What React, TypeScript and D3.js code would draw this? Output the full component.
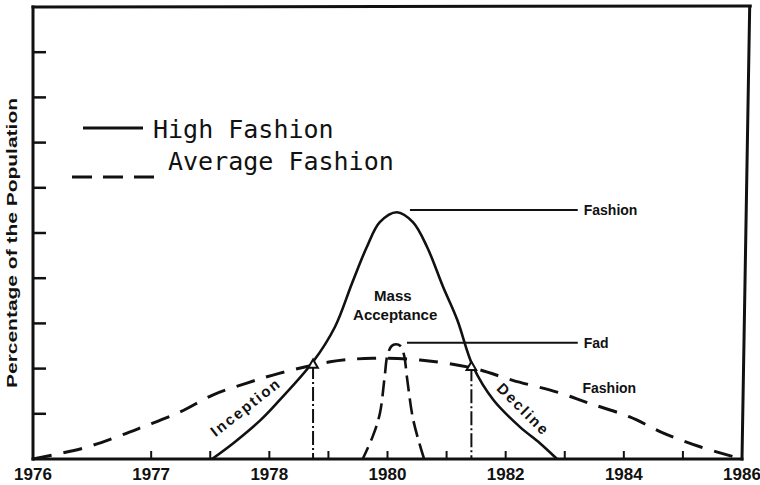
import React from "react";
import * as d3 from "d3";

// x is measured in tick steps along the axis (0 = 1976, 12 = 1986), y in axis ticks
const tickLabels = ["1976", "", "1977", "", "1978", "", "1980", "", "1982", "", "1984", "", "1986"];
const yTicks = [1, 2, 3, 4, 5, 6, 7, 8, 9];
const xMinorTicks = [2, 3, 4, 5, 6, 7, 8, 9, 10, 11];

const highFashion: [number, number][] = [
	[3.03, 0], [3.39, 0.35], [3.85, 0.86], [4.13, 1.24], [4.74, 2.15], [5.11, 2.92],
	[5.4, 3.89], [5.65, 4.69], [5.87, 5.24], [6.16, 5.46], [6.43, 5.24], [6.67, 4.69],
	[6.94, 3.81], [7.18, 3.08], [7.45, 2.04], [7.79, 1.31], [8.24, 0.71], [8.58, 0.35], [8.87, 0],
];

const averageFashion: [number, number][] = [
	[0, 0], [0.85, 0.24], [1.42, 0.49], [1.86, 0.71], [2.49, 1.04], [3.05, 1.42],
	[3.62, 1.68], [4.18, 1.9], [5.03, 2.15], [5.75, 2.23], [6.55, 2.19], [7.45, 2.01],
	[8.12, 1.74], [8.87, 1.48], [9.4, 1.24], [10.1, 0.93], [10.66, 0.58], [11.29, 0.27], [12, 0],
];

const fad: [number, number][] = [
	[5.58, 0], [5.75, 0.5], [5.87, 1.0], [5.95, 1.8], [6.0, 2.3], [6.07, 2.5], [6.14, 2.54],
	[6.22, 2.5], [6.28, 2.3], [6.33, 1.8], [6.43, 0.9], [6.55, 0.3], [6.62, 0],
];

// where the two curves cross: dropped to the axis
const crossings: [number, number][] = [[4.74, 2.08], [7.42, 2.03]];

const leaders = [
	{ label: "Fashion", x0: 6.38, x1: 9.22, y: 5.51 },
	{ label: "Fad", x0: 6.33, x1: 9.22, y: 2.57 },
];

const notes = [
	{ label: "Fashion", x: 9.3, y: 1.57, angle: 0, anchor: "start" },
	{ label: "Mass", x: 6.09, y: 3.62, angle: 0, anchor: "middle" },
	{ label: "Acceptance", x: 6.13, y: 3.2, angle: 0, anchor: "middle" },
	{ label: "Inception", x: 3.6, y: 1.15, angle: -38, anchor: "middle" },
	{ label: "Decline", x: 8.3, y: 1.1, angle: 45, anchor: "middle" },
];

const W = 760;
const H = 485;

export default function App() {
	const x = d3.scaleLinear().domain([0, 12]).range([33, 742]);
	const y = d3.scaleLinear().domain([0, 10]).range([459, 7]);

	const line = d3
		.line<[number, number]>()
		.x((d) => x(d[0]))
		.y((d) => y(d[1]))
		.curve(d3.curveCatmullRom.alpha(0.5));

	const sans = "'Liberation Sans', Arial, sans-serif";
	const mono = "'DejaVu Sans Mono', monospace";
	const tri = d3.symbol(d3.symbolTriangle, 40)();

	return (
		<svg width={W} height={H} style={{ position: "absolute", left: 0, top: 0, background: "#fff" }}>
			{/* frame */}
			<g stroke="#111" strokeWidth={3} fill="none" strokeLinecap="square">
				<line x1={x(0)} y1={y(0)} x2={x(0)} y2={y(10)} />
				<line x1={x(0)} y1={y(10)} x2={x(12.14)} y2={y(10) - 1} />
				<line x1={x(12.13)} y1={y(10)} x2={x(12)} y2={y(0)} />
				<line x1={x(0)} y1={y(0)} x2={x(12)} y2={y(0)} />
			</g>

			{/* y ticks */}
			<g stroke="#111" strokeWidth={2.5}>
				{yTicks.map((t) => (
					<line key={t} x1={x(0)} x2={x(0) + 13} y1={y(t)} y2={y(t)} />
				))}
			</g>

			{/* x ticks */}
			<g stroke="#111" strokeWidth={2}>
				{xMinorTicks.map((t) => (
					<line key={t} x1={x(t)} x2={x(t)} y1={y(0)} y2={y(0) - 8} />
				))}
			</g>

			<g fontFamily={sans} fontWeight="bold" fontSize={17} fill="#111" textAnchor="middle">
				{tickLabels.map((l, i) =>
					l ? (
						<text key={i} x={x(i)} y={480}>
							{l}
						</text>
					) : null
				)}
			</g>

			<text
				transform={`translate(17,243) rotate(-90)`}
				textAnchor="middle"
				fontFamily={sans}
				fontWeight="bold"
				fontSize={15}
				textLength={290}
				lengthAdjust="spacingAndGlyphs"
				fill="#111"
			>
				Percentage of the Population
			</text>

			{/* drop lines */}
			<g stroke="#111" strokeWidth={2} strokeDasharray="14,3,2,3">
				{crossings.map((c, i) => (
					<line key={i} x1={x(c[0])} x2={x(c[0])} y1={y(c[1])} y2={y(0)} />
				))}
			</g>

			{/* curves */}
			<path d={line(averageFashion) || ""} fill="none" stroke="#111" strokeWidth={3} strokeDasharray="19,12" />
			<path d={line(fad) || ""} fill="none" stroke="#111" strokeWidth={2.6} strokeDasharray="16,7" strokeDashoffset={3} />
			<path d={line(highFashion) || ""} fill="none" stroke="#111" strokeWidth={2.6} />

			{crossings.map((c, i) => (
				<path key={i} d={tri || ""} transform={`translate(${x(c[0])},${y(c[1])})`} fill="#fff" stroke="#111" strokeWidth={2} />
			))}

			{/* annotations */}
			<g stroke="#111" strokeWidth={2}>
				{leaders.map((l, i) => (
					<line key={i} x1={x(l.x0)} x2={x(l.x1)} y1={y(l.y)} y2={y(l.y)} />
				))}
			</g>
			<g fontFamily={sans} fontWeight="bold" fontSize={14} fill="#111">
				{leaders.map((l, i) => (
					<text key={i} x={x(l.x1) + 6} y={y(l.y)} dy="0.35em">
						{l.label}
					</text>
				))}
				{notes.map((n, i) => (
					<text
						key={i}
						transform={`translate(${x(n.x)},${y(n.y)}) rotate(${n.angle})`}
						textAnchor={n.anchor}
						dy="0.35em"
						fontSize={n.label === "Fashion" ? 14 : 15}
						letterSpacing={n.angle ? 2 : 0}
					>
						{n.label}
					</text>
				))}
			</g>

			{/* legend */}
			<line x1={83} x2={143} y1={128} y2={128} stroke="#111" strokeWidth={3} />
			<line x1={72} x2={155} y1={177} y2={177} stroke="#111" strokeWidth={3} strokeDasharray="20,11" />
			<g fontFamily={mono} fontSize={25} fill="#111">
				<text x={153} y={138}>High Fashion</text>
				<text x={168} y={170}>Average Fashion</text>
			</g>
		</svg>
	);
}
